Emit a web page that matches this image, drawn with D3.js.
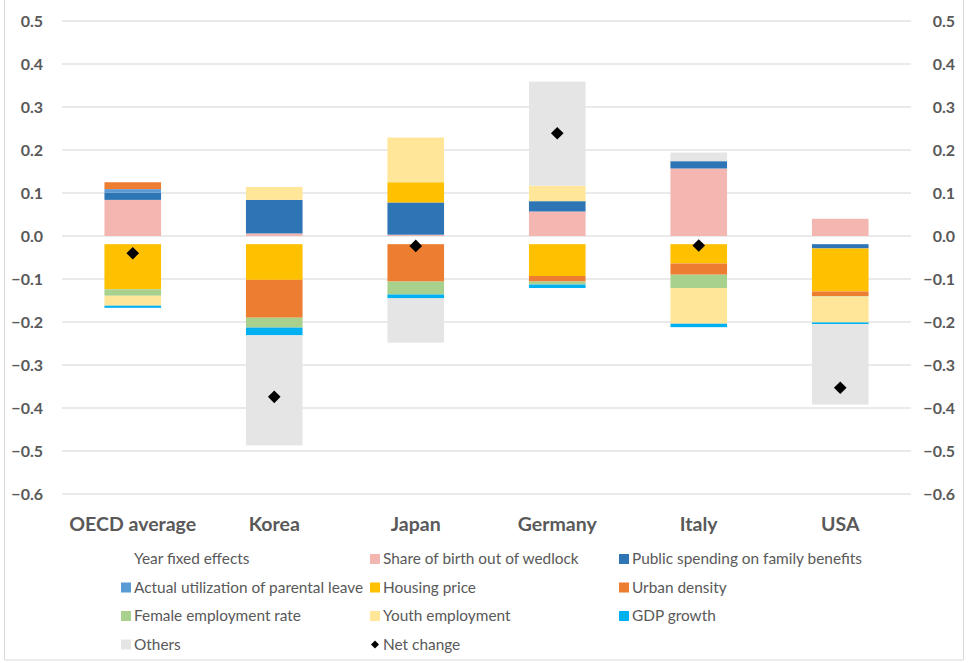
<!DOCTYPE html>
<html>
<head>
<meta charset="utf-8">
<script src="https://cdn.jsdelivr.net/npm/d3@7"></script>
<style>
  body { margin: 0; background: #fff; }
  svg { display: block; font-family: Lato, "Open Sans", sans-serif; }
</style>
</head>
<body>
<svg id="chart" width="968" height="663"></svg>
<script>
// categories and tick labels
const countries = ["OECD average", "Korea", "Japan", "Germany", "Italy", "USA"];
const yTicks = [0.5, 0.4, 0.3, 0.2, 0.1, 0.0, -0.1, -0.2, -0.3, -0.4, -0.5, -0.6];

// contributions per series, one value per country
const yearFixed      = [-0.019, -0.019, -0.019, -0.019, -0.019, -0.019];
const shareBirth     = [0.084, 0.006, 0.003, 0.057, 0.157, 0.040];
const publicSpending = [0.017, 0.078, 0.075, 0.024, 0.017, -0.010];
const parentalLeave  = [0.008, 0.000, 0.000, 0.000, 0.000, 0.000];
const housingPrice   = [-0.105, -0.083, 0.047, -0.074, -0.045, -0.100];
const urbanDensity   = [0.016, -0.088, -0.087, -0.013, -0.026, -0.011];
const femaleEmp      = [-0.015, -0.023, -0.030, -0.007, -0.031, -0.001];
const youthEmp       = [-0.023, 0.030, 0.104, 0.036, -0.083, -0.060];
const gdpGrowth      = [-0.005, -0.018, -0.009, -0.008, -0.008, -0.004];
const others         = [0.000, -0.256, -0.103, 0.242, 0.020, -0.187];
const netChange      = [-0.040, -0.374, -0.023, 0.239, -0.022, -0.353];

// series in legend / stacking order
const series = [
  { key: "Year fixed effects", values: yearFixed, color: "none" },
  { key: "Share of birth out of wedlock", values: shareBirth, color: "#F4B6B1" },
  { key: "Public spending on family benefits", values: publicSpending, color: "#2E75B6" },
  { key: "Actual utilization of parental leave", values: parentalLeave, color: "#5B9BD5" },
  { key: "Housing price", values: housingPrice, color: "#FFC000" },
  { key: "Urban density", values: urbanDensity, color: "#ED7D31" },
  { key: "Female employment rate", values: femaleEmp, color: "#A9D18E" },
  { key: "Youth employment", values: youthEmp, color: "#FFE699" },
  { key: "GDP growth", values: gdpGrowth, color: "#00B0F0" },
  { key: "Others", values: others, color: "#E5E5E5" }
];

const svg = d3.select("#chart");
const textColor = "#595959";

// outer chart border
svg.append("rect")
  .attr("x", 4.5).attr("y", -1)
  .attr("width", 959).attr("height", 661)
  .attr("fill", "none").attr("stroke", "#d9d9d9");

const x = d3.scaleBand().domain(countries).range([62, 911])
  .paddingInner(0.6).paddingOuter(0.3);
const y = d3.scaleLinear().domain([-0.6, 0.5]).range([494, 21]);

// gridlines
svg.append("g").selectAll("line").data(yTicks).enter()
  .append("line")
  .attr("x1", 62).attr("x2", 911)
  .attr("y1", d => y(d)).attr("y2", d => y(d))
  .attr("stroke", "#e3e3e3").attr("stroke-width", 1.5);

// left and right axes (labels only)
const fmt = d3.format(".1f");
const leftAxis = svg.append("g").attr("transform", "translate(43,0)")
  .call(d3.axisLeft(y).tickValues(yTicks).tickFormat(fmt).tickSize(0).tickPadding(0));
const rightAxis = svg.append("g").attr("transform", "translate(955,0)")
  .call(d3.axisLeft(y).tickValues(yTicks).tickFormat(fmt).tickSize(0).tickPadding(0));
[leftAxis, rightAxis].forEach(g => {
  g.select(".domain").remove();
  g.selectAll("text")
    .attr("fill", textColor)
    .style("font-size", "16px").style("font-weight", "bold")
    .style("font-family", "Lato, sans-serif");
});

// stacked bars
const table = countries.map((c, i) => {
  const row = { country: c };
  series.forEach(s => { row[s.key] = s.values[i]; });
  return row;
});
const stacked = d3.stack().keys(series.map(s => s.key))
  .offset(d3.stackOffsetDiverging)(table);

svg.append("g").selectAll("g").data(stacked).enter()
  .append("g")
  .attr("fill", (d, i) => series[i].color)
  .selectAll("rect").data(d => d).enter()
  .append("rect")
  .attr("x", d => x(d.data.country))
  .attr("width", x.bandwidth())
  .attr("y", d => y(Math.max(d[0], d[1])))
  .attr("height", d => Math.abs(y(d[0]) - y(d[1])));

// net change markers
const diamond = d3.symbol().type(d3.symbolSquare).size(80);
svg.append("g").selectAll("path").data(netChange).enter()
  .append("path")
  .attr("d", diamond)
  .attr("transform", (d, i) =>
    `translate(${x(countries[i]) + x.bandwidth() / 2},${y(d)}) rotate(45)`)
  .attr("fill", "#000");

// category labels
const xAxis = svg.append("g").attr("transform", "translate(0,513)")
  .call(d3.axisBottom(x).tickSize(0).tickPadding(0));
xAxis.select(".domain").remove();
xAxis.selectAll("text")
  .attr("fill", textColor)
  .attr("dy", "0.9em")
  .style("font-size", "19.5px").style("font-weight", "bold")
  .style("font-family", "Lato, sans-serif");

// legend
const legendCols = [121, 370, 619];
const legendRows = [559, 587.5, 616, 644.5];
const legendItems = series.map(s => ({ label: s.key, color: s.color, type: "rect" }))
  .concat([{ label: "Net change", color: "#000", type: "diamond" }]);

const legend = svg.append("g").selectAll("g").data(legendItems).enter()
  .append("g")
  .attr("transform", (d, i) =>
    `translate(${legendCols[i % 3]},${legendRows[Math.floor(i / 3)]})`);

legend.filter(d => d.type == "rect").append("rect")
  .attr("x", 0).attr("y", -5).attr("width", 10).attr("height", 10)
  .attr("fill", d => d.color);
legend.filter(d => d.type == "diamond").append("path")
  .attr("d", d3.symbol().type(d3.symbolSquare).size(32))
  .attr("transform", "translate(5,0) rotate(45)")
  .attr("fill", "#000");
legend.append("text")
  .attr("x", 13).attr("dy", "0.35em")
  .attr("fill", textColor)
  .style("font-size", "15.4px")
  .text(d => d.label);
</script>
</body>
</html>
